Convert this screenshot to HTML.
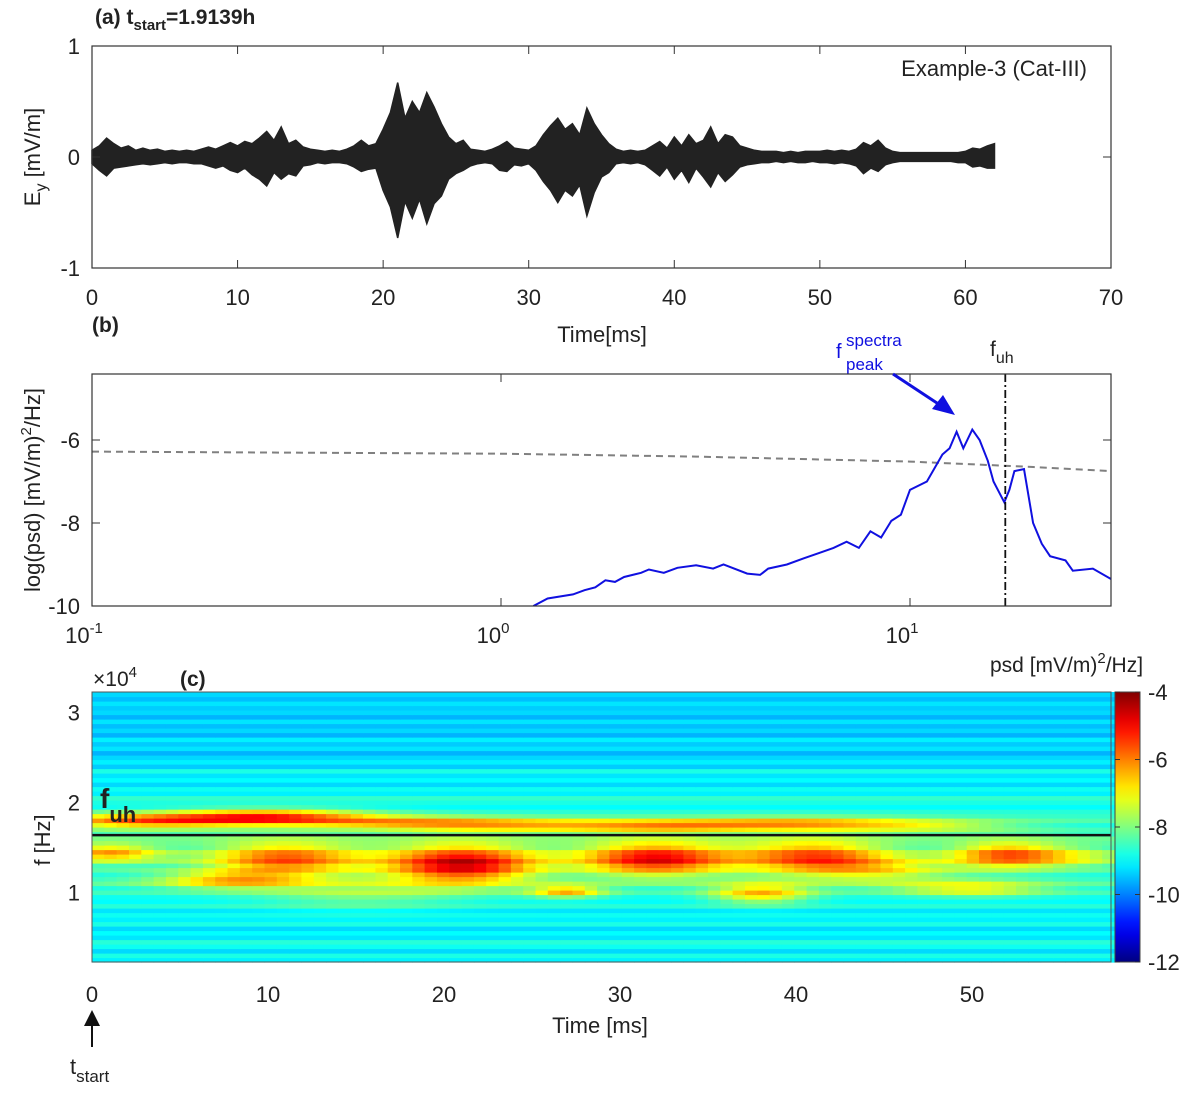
<!DOCTYPE html>
<html><head><meta charset="utf-8">
<style>
body{margin:0;background:#fff;}
svg{display:block;font-family:"Liberation Sans",Arial,sans-serif;}
</style></head>
<body>
<svg id="fig" width="1200" height="1094" viewBox="0 0 1200 1094" xmlns="http://www.w3.org/2000/svg">
<g id="pa"></g>
<g id="pb"></g>
<g id="pc"></g>
</svg>
<script>
// ---------- Panel (a) data: waveform envelope (mV/m) every 0.5 ms, 0..62 ms ----------
const waveStep = 0.5;
const waveUpper = [0.06,0.1,0.17,0.12,0.08,0.1,0.06,0.08,0.06,0.07,0.05,0.06,0.05,0.06,0.05,0.07,0.09,0.07,0.1,0.13,0.1,0.14,0.12,0.17,0.23,0.15,0.27,0.12,0.15,0.09,0.07,0.06,0.05,0.06,0.05,0.07,0.1,0.15,0.1,0.12,0.25,0.4,0.67,0.35,0.5,0.4,0.58,0.45,0.3,0.18,0.12,0.15,0.07,0.06,0.05,0.07,0.1,0.14,0.08,0.07,0.06,0.1,0.2,0.28,0.35,0.25,0.3,0.2,0.44,0.3,0.2,0.12,0.07,0.05,0.06,0.05,0.06,0.1,0.14,0.08,0.18,0.1,0.2,0.12,0.15,0.27,0.12,0.2,0.18,0.1,0.08,0.06,0.05,0.05,0.05,0.04,0.05,0.04,0.05,0.05,0.05,0.06,0.05,0.06,0.05,0.07,0.13,0.1,0.15,0.08,0.05,0.04,0.04,0.04,0.04,0.04,0.04,0.04,0.04,0.04,0.05,0.08,0.07,0.1,0.12];
const waveLower = [0.06,0.12,0.17,0.1,0.09,0.08,0.07,0.06,0.07,0.06,0.05,0.06,0.05,0.05,0.06,0.06,0.08,0.1,0.08,0.12,0.14,0.1,0.16,0.2,0.26,0.14,0.2,0.15,0.17,0.08,0.07,0.05,0.06,0.05,0.05,0.06,0.09,0.13,0.11,0.1,0.3,0.45,0.73,0.4,0.55,0.38,0.6,0.42,0.35,0.2,0.15,0.12,0.08,0.06,0.05,0.06,0.12,0.13,0.07,0.08,0.06,0.12,0.22,0.3,0.41,0.3,0.35,0.25,0.53,0.32,0.18,0.14,0.06,0.05,0.06,0.05,0.07,0.12,0.17,0.09,0.2,0.12,0.23,0.1,0.18,0.27,0.14,0.22,0.16,0.09,0.07,0.06,0.05,0.05,0.04,0.05,0.04,0.05,0.05,0.04,0.05,0.05,0.06,0.05,0.06,0.08,0.15,0.1,0.13,0.07,0.05,0.04,0.04,0.04,0.04,0.04,0.04,0.04,0.04,0.05,0.05,0.09,0.08,0.1,0.1];
const aXTicks = [0,10,20,30,40,50,60,70];
const aYTicks = [-1,0,1];

// ---------- Panel (b) data ----------
const psdFreq = [1.2,1.3,1.5,1.6,1.7,1.8,1.9,2,2.2,2.3,2.5,2.7,3,3.3,3.5,4,4.3,4.5,5,5.5,6,6.5,7,7.5,8,8.5,9,9.5,10,11,12,12.5,13,13.5,14.2,14.8,15.5,16,17,17.5,18,19,20,21,22,24,25,28,31];
const psdVal = [-10,-9.82,-9.72,-9.62,-9.55,-9.38,-9.42,-9.3,-9.2,-9.12,-9.2,-9.08,-9.02,-9.1,-9.0,-9.22,-9.25,-9.1,-9.0,-8.85,-8.72,-8.6,-8.45,-8.6,-8.2,-8.35,-7.95,-7.8,-7.2,-7.0,-6.35,-6.2,-5.8,-6.2,-5.75,-6.0,-6.5,-7.0,-7.5,-7.2,-6.75,-6.7,-8.0,-8.5,-8.8,-8.9,-9.15,-9.1,-9.35];
const fitFreq = [0.1,1,3,10,20,31];
const fitVal = [-6.28,-6.33,-6.4,-6.52,-6.65,-6.75];
const bYTicks = [-10,-8,-6];
const bXTicks = [0.1,1,10];
const fuh = 17.1;

// ---------- Panel (c) data ----------
const rowBackground = [-9.1,-8.8,-9.3,-8.9,-8.7,-9.2,-9.0,-9.3,-8.8,-9.1,-8.9,-9.2,-8.7,-9.0,-8.9,-8.5,-8.8,-8.3,-8.6,-8.8,-8.4,-8.7,-8.2,-8.5,-8.3,-8.7,-8.4,-8.2,-8.6,-8.5,-8.8,-8.4,-8.6,-8.7,-9.0,-8.8,-8.6,-9.1,-8.9,-9.3,-9.0,-9.2,-8.8,-9.4,-9.1,-9.3,-9.6,-9.2,-9.4,-9.1,-9.6,-9.3,-9.5,-9.2,-9.6,-9.3,-9.4,-9.2,-9.5,-9.3];
const blobT  = [3,10,18,25,33,40,47,1,11,8,21,32,27,41,38,52,50,15,45,56];
const blobF  = [1.8,1.85,1.78,1.75,1.75,1.77,1.75,1.45,1.38,1.15,1.32,1.38,1.02,1.4,1.0,1.42,1.05,1.0,1.25,1.4];
const blobST = [4,4,5,5,4,4,4,2,3,3,3,3,1.5,3,2,2.2,3,4,3,2];
const blobSF = [0.06,0.06,0.05,0.05,0.05,0.05,0.05,0.07,0.13,0.07,0.15,0.13,0.05,0.13,0.08,0.1,0.06,0.12,0.1,0.08];
const blobAmp= [2.6,3.0,2.0,1.6,2.0,2.0,1.4,2.2,2.8,2.0,4.0,3.6,2.2,2.9,2.2,2.8,1.6,0.9,1.3,0.9];
const cXTicks = [0,10,20,30,40,50];
const cYTicks = [1,2,3];
const cbTicks = [-4,-6,-8,-10,-12];
const fuhSpec = 1.64;

const NS="http://www.w3.org/2000/svg";
function mk(tag,attrs,parent,text){const e=document.createElementNS(NS,tag);for(const k in attrs)e.setAttribute(k,attrs[k]);if(text!==undefined)e.textContent=text;parent.appendChild(e);return e;}

// ===== Panel A =====
const pa=document.getElementById('pa');
const aL=92,aR=1111,aT=46,aB=268;
const ax=t=>aL+t/70*(aR-aL);
const ay=v=>aT+(1-v)/2*(aB-aT);
let pts=[];
for(let i=0;i<waveUpper.length;i++)pts.push(ax(i*waveStep).toFixed(1)+','+ay(waveUpper[i]).toFixed(1));
for(let i=waveLower.length-1;i>=0;i--)pts.push(ax(i*waveStep).toFixed(1)+','+ay(-waveLower[i]).toFixed(1));
let w=mk('polygon',{points:pts.join(' '),fill:'#222',stroke:'#222','stroke-width':1.5,'stroke-linejoin':'miter'},pa);


let fr=mk('rect',{x:aL,y:aT,width:aR-aL,height:aB-aT,fill:'none',stroke:'#333','stroke-width':1.2},pa);

aXTicks.forEach(t=>{const x=ax(t);mk('line',{x1:x,x2:x,y1:aB,y2:aB-8,stroke:'#333'},pa);mk('line',{x1:x,x2:x,y1:aT,y2:aT+8,stroke:'#333'},pa);
 const e=mk('text',{x:x,y:aB+37,'font-size':22,'text-anchor':'middle',fill:'#222'},pa,t);});
aYTicks.forEach(v=>{const y=ay(v);mk('line',{x1:aL,x2:aL+8,y1:y,y2:y,stroke:'#333'},pa);mk('line',{x1:aR,x2:aR-8,y1:y,y2:y,stroke:'#333'},pa);
 const e=mk('text',{x:aL-12,y:y+8,'font-size':22,'text-anchor':'end',fill:'#222'},pa,v);});
pa.insertAdjacentHTML('beforeend',`
<text x="95" y="24" font-size="21" font-weight="bold" fill="#222">(a) t<tspan font-size="15" dy="6">start</tspan><tspan dy="-6">=1.9139h</tspan></text>
<text x="1087" y="76" font-size="22" text-anchor="end" fill="#222">Example-3 (Cat-III)</text>
<text x="602" y="342" font-size="22" text-anchor="middle" fill="#222">Time[ms]</text>
<text transform="translate(40,157) rotate(-90)" font-size="22" text-anchor="middle" fill="#222">E<tspan font-size="16" dy="6">y</tspan><tspan dy="-6"> [mV/m]</tspan></text>`);

// ===== Panel B =====
const pb=document.getElementById('pb');
const bL=92,bR=1111,bT=374,bB=606;
const bx=f=>bL+(Math.log10(f)+1)*409;
const by=v=>bB-(v+10)/2*83;
const cp=mk('clipPath',{id:'clipb'},pb);
mk('rect',{x:bL,y:bT,width:bR-bL,height:bB-bT},cp);
let fitLine=mk('polyline',{points:fitFreq.map((f,i)=>bx(f)+','+by(fitVal[i])).join(' '),fill:'none',stroke:'#808080','stroke-width':2,'stroke-dasharray':'7,5','clip-path':'url(#clipb)'},pb);

let psdLine=mk('polyline',{points:psdFreq.map((f,i)=>bx(f).toFixed(1)+','+by(psdVal[i]).toFixed(1)).join(' '),fill:'none',stroke:'#1010e0','stroke-width':2,'clip-path':'url(#clipb)'},pb);

let fl=mk('line',{x1:bx(fuh),x2:bx(fuh),y1:bT,y2:bB,stroke:'#111','stroke-width':1.8,'stroke-dasharray':'8,3,2,3'},pb);

let fb=mk('rect',{x:bL,y:bT,width:bR-bL,height:bB-bT,fill:'none',stroke:'#333','stroke-width':1.2},pb);

bYTicks.forEach(v=>{const y=by(v);mk('line',{x1:bL,x2:bL+8,y1:y,y2:y,stroke:'#333'},pb);mk('line',{x1:bR,x2:bR-8,y1:y,y2:y,stroke:'#333'},pb);
 const e=mk('text',{x:bL-12,y:y+8,'font-size':22,'text-anchor':'end',fill:'#222'},pb,v);});
bXTicks.forEach(f=>{const x=bx(f);mk('line',{x1:x,x2:x,y1:bB,y2:bB-8,stroke:'#333'},pb);mk('line',{x1:x,x2:x,y1:bT,y2:bT+8,stroke:'#333'},pb);
 const p=Math.round(Math.log10(f));
 const e=mk('text',{x:x-8,y:bB+37,'font-size':22,'text-anchor':'middle',fill:'#222'},pb);
 e.innerHTML='10<tspan font-size="15" dy="-10">'+p+'</tspan>';});
pb.insertAdjacentHTML('beforeend',`
<text x="92" y="332" font-size="21" font-weight="bold" fill="#222">(b)</text>
<text transform="translate(40,490) rotate(-90)" font-size="22" text-anchor="middle" fill="#222">log(psd) [mV/m)<tspan font-size="15" dy="-9">2</tspan><tspan dy="9">/Hz]</tspan></text>
<text x="836" y="358" font-size="20" fill="#1010e0">f</text>
<text x="846" y="346" font-size="17" fill="#1010e0">spectra</text>
<text x="846" y="370" font-size="17" fill="#1010e0">peak</text>
<line x1="893" y1="374" x2="943" y2="407" stroke="#1010e0" stroke-width="3"/>
<polygon points="955,415 932,409 943,395" fill="#1010e0"/>
<text x="990" y="356" font-size="21" fill="#222">f<tspan font-size="16" dy="7">uh</tspan></text>`);

// ===== Panel C =====
const pc=document.getElementById('pc');
const cL=92,cR=1111,cT=692,cB=962;
const cx=t=>cL+t*17.6;
const cy=f=>cB-(f-0.23)*90;
function jet(v){let x=(v+12)/8;x=Math.max(0,Math.min(1,x));
 const r=Math.max(0,Math.min(1,1.5-Math.abs(4*x-3))),g=Math.max(0,Math.min(1,1.5-Math.abs(4*x-2))),b=Math.max(0,Math.min(1,1.5-Math.abs(4*x-1)));
 return `rgb(${Math.round(r*255)},${Math.round(g*255)},${Math.round(b*255)})`;}
const dt=0.7,df=0.05;
const cells=mk('g',{},pc);
for(let r=0;r<rowBackground.length;r++){
 const f=0.23+r*df+df/2;
 for(let t=0;t<58;t+=dt){
  const tc=t+dt/2;let v=rowBackground[r];
  for(let k=0;k<blobT.length;k++){v+=blobAmp[k]*Math.exp(-((tc-blobT[k])**2)/(2*blobST[k]**2)-((f-blobF[k])**2)/(2*blobSF[k]**2));}
  mk('rect',{x:cx(t).toFixed(1),y:(cy(f+df/2)).toFixed(1),width:(dt*17.6+0.6).toFixed(1),height:(df*90+0.6).toFixed(1),fill:jet(v)},cells);
 }
}
let hl=mk('line',{x1:cL,x2:cR,y1:cy(fuhSpec),y2:cy(fuhSpec),stroke:'#111','stroke-width':2.5},pc);

let fc=mk('rect',{x:cL,y:cT,width:cR-cL,height:cB-cT,fill:'none',stroke:'#555','stroke-width':1},pc);

cXTicks.forEach(t=>{const x=cx(t);
 const e=mk('text',{x:x,y:cB+40,'font-size':22,'text-anchor':'middle',fill:'#222'},pc,t);});
cYTicks.forEach(f=>{const y=cy(f);
 const e=mk('text',{x:cL-12,y:y+8,'font-size':22,'text-anchor':'end',fill:'#222'},pc,f);});
const cbL=1115,cbW=25;
const grad=mk('linearGradient',{id:'jetg',x1:0,y1:1,x2:0,y2:0},pc);
for(let i=0;i<=20;i++){mk('stop',{offset:i/20,'stop-color':jet(-12+8*i/20)},grad);}
let cb=mk('rect',{x:cbL,y:cT,width:cbW,height:cB-cT,fill:'url(#jetg)',stroke:'#444','stroke-width':1},pc);

cbTicks.forEach(v=>{const y=cT+(-4-v)/8*(cB-cT);mk('line',{x1:cbL,x2:cbL+5,y1:y,y2:y,stroke:'#333'},pc);mk('line',{x1:cbL+cbW,x2:cbL+cbW-5,y1:y,y2:y,stroke:'#333'},pc);
 const e=mk('text',{x:cbL+cbW+8,y:y+8,'font-size':22,fill:'#222'},pc,v);});
pc.insertAdjacentHTML('beforeend',`
<text x="93" y="686" font-size="21" fill="#222">×10<tspan font-size="15" dy="-9">4</tspan></text>
<text x="180" y="686" font-size="21" font-weight="bold" fill="#222">(c)</text>
<text x="990" y="672" font-size="21" fill="#222">psd [mV/m)<tspan font-size="15" dy="-9">2</tspan><tspan dy="9">/Hz]</tspan></text>
<text x="100" y="808" font-size="28" font-weight="bold" fill="#222">f<tspan font-size="22" dy="14">uh</tspan></text>
<text transform="translate(50,840) rotate(-90)" font-size="22" text-anchor="middle" fill="#222">f [Hz]</text>
<text x="600" y="1033" font-size="22" text-anchor="middle" fill="#222">Time [ms]</text>
<line x1="92" y1="1047" x2="92" y2="1020" stroke="#111" stroke-width="2"/>
<polygon points="92,1010 84,1026 100,1026" fill="#111"/>
<text x="70" y="1074" font-size="22" fill="#222">t<tspan font-size="17" dy="8">start</tspan></text>`);
</script>
</body></html>
